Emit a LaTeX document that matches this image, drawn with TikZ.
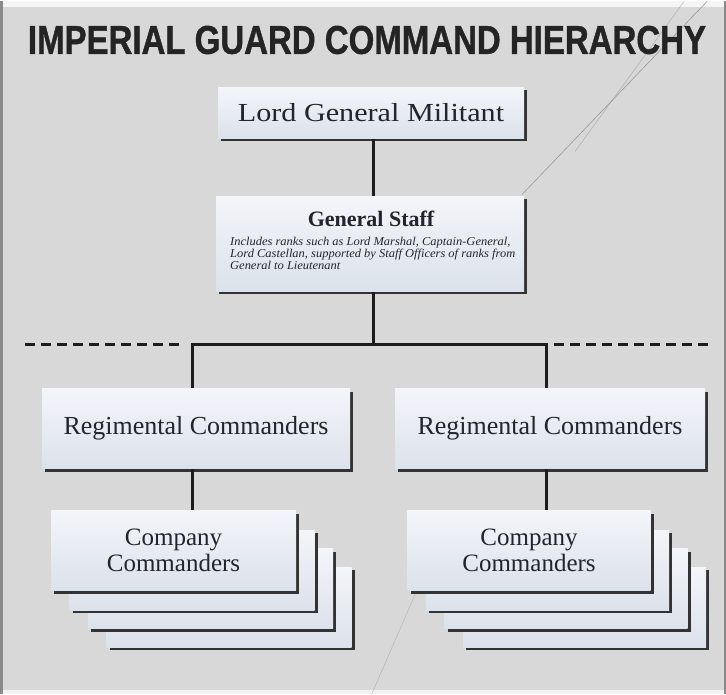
\documentclass[tikz,border=0pt]{standalone}
\usepackage{fontspec}
\setmainfont{Liberation Serif}
\newfontfamily\titlefont[FakeBold=1.2]{Liberation Sans Bold}
\usetikzlibrary{shadows}
\definecolor{bgc}{HTML}{D8D8D8}
\definecolor{bgedge}{HTML}{8A8A8A}
\definecolor{boxtop}{HTML}{F3F5F9}
\definecolor{boxbot}{HTML}{DCE2EB}
\definecolor{ink}{HTML}{22242E}
\definecolor{linec}{HTML}{1C1C1C}
\definecolor{scratch}{HTML}{9A9A9A}
\tikzset{
  rankbox/.style={rectangle, inner sep=0pt, top color=boxtop, bottom color=boxbot,
    general shadow={fill=black!80, shadow xshift=3pt, shadow yshift=-3pt},
    text=ink, align=center, font=\fontsize{26}{26}\selectfont},
  link/.style={draw=linec, line width=3pt},
  dashlink/.style={draw=linec, line width=3pt, dash pattern=on 10pt off 6pt},
  scratchline/.style={draw=scratch, line width=0.6pt}
}
\begin{document}
\begin{tikzpicture}[x=1pt,y=-1pt]
% background
\fill[bgc] (0,0) rectangle (726,692);
\fill[white!92!gray] (0,0) rectangle (726,6);
\fill[white!90!gray] (0,688) rectangle (726,692);
\draw[bgedge, line width=3pt] (1.5,0) -- (1.5,692);
\draw[bgedge, line width=2pt] (725,0) -- (725,692);
\useasboundingbox (0,0) rectangle (726,692);
% scratches
\draw[scratchline] (707,0) -- (522,193);
\draw[scratchline, opacity=0.6] (684,0) -- (575,150);
\draw[scratchline, opacity=0.5] (425,570) -- (372,692);

% title
\node (title) at (367,38.5) {\resizebox{678pt}{28pt}{\titlefont\color[HTML]{242424}IMPERIAL GUARD COMMAND HIERARCHY}};

% boxes
\node[rankbox, minimum width=306pt, minimum height=51pt] (lgm) at (371,111.5)
  {\scalebox{1.16}[1]{Lord General Militant}};
\node[rankbox, minimum width=308pt, minimum height=95pt] (gs) at (370,242.5) {};
\node[font=\fontsize{22}{22}\selectfont\bfseries, text=ink] (gst) at (371,217) {General Staff};
\node[font=\fontsize{12}{12}\itshape, text=ink, align=left, anchor=north west, inner sep=0pt] (gsd) at (230,235)
  {\scalebox{1.04}[1]{Includes ranks such as Lord Marshal, Captain-General,}\\
   \scalebox{1.04}[1]{Lord Castellan, supported by Staff Officers of ranks from}\\
   \scalebox{1.04}[1]{General to Lieutenant}};

% junction
\coordinate (jc) at (373,343);
\coordinate (jL) at (192,343);
\coordinate (jR) at (546,343);
\coordinate (dL) at (25,343);
\coordinate (dR) at (712,343);

\node[rankbox, minimum width=308pt, minimum height=80pt] (regL) at (196,427) {Regimental Commanders};
\node[rankbox, minimum width=310pt, minimum height=80pt] (regR) at (550,427) {Regimental Commanders};

% company stacks (left)
\foreach \k/\nm in {3/cL4,2/cL3,1/cL2}{
  \node[rankbox, minimum width=245pt, minimum height=80pt] (\nm) at ({173.5+18.5*\k},{550+18.5*\k}) {};
}
\node[rankbox, minimum width=245pt, minimum height=80pt, font=\fontsize{25}{26}\selectfont] (cL1) at (173.5,549) {Company\\Commanders};
% company stacks (right)
\foreach \k/\nm in {3/cR4,2/cR3,1/cR2}{
  \node[rankbox, minimum width=243pt, minimum height=80pt] (\nm) at ({529+18.5*\k},{550+18.5*\k}) {};
}
\node[rankbox, minimum width=243pt, minimum height=80pt, font=\fontsize{25}{26}\selectfont] (cR1) at (529,549) {Company\\Commanders};

% connectors
\draw[link] (lgm.south -| jc) -- (gs.north -| jc);
\draw[link] (gs.south -| jc) -- (jc);
\draw[link, line cap=rect] (jL) -- (jR);
\draw[link] (jL) -- (regL.north -| jL);
\draw[link] (jR) -- (regR.north -| jR);
\draw[dashlink] (dL) -- ([xshift=-8pt]jL);
\draw[dashlink] ([xshift=8pt]jR) -- (dR);
\draw[link] (regL.south -| jL) -- (cL1.north -| jL);
\draw[link] (regR.south -| jR) -- (cR1.north -| jR);
\end{tikzpicture}
\end{document}
